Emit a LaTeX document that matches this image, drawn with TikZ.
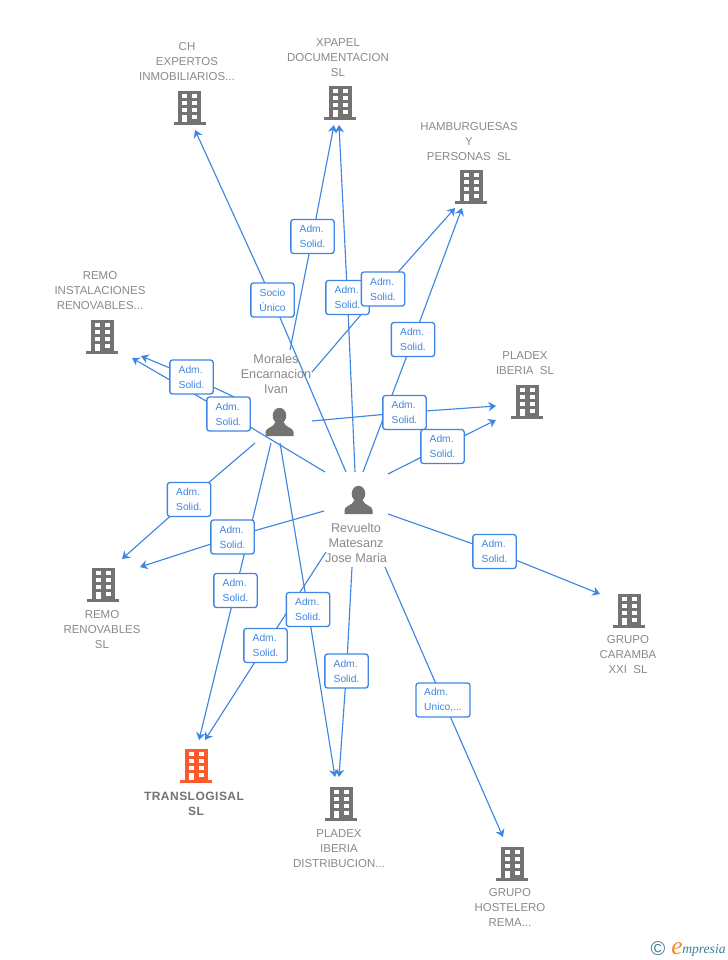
\documentclass[tikz,border=0pt]{standalone}
\usepackage{fontspec}
\setmainfont{Liberation Sans}
\newfontfamily\logofont{Liberation Serif}
\usetikzlibrary{arrows.meta}
\definecolor{linkblue}{HTML}{3F86E2}
\definecolor{labelgray}{HTML}{8A8A8A}
\definecolor{icongray}{HTML}{737373}
\definecolor{iconorange}{HTML}{FF5A2B}
\definecolor{logoteal}{HTML}{3E7F97}
\definecolor{logoorange}{HTML}{F08A24}
\colorlet{bcol}{icongray}
\pgfdeclarelayer{links}
\pgfsetlayers{links,main}
\tikzset{
  x=0.75pt,y=-0.75pt,
  conn/.style={draw=linkblue,line width=0.85pt,-{Stealth[length=5.6pt,width=7pt,inset=1.8pt]}},
  tag/.style={draw=linkblue,line width=1pt,rounded corners=2pt,fill=white,minimum width=32.5pt,minimum height=25.5pt,inner sep=0pt,text=linkblue,font=\fontsize{7.7pt}{11.25pt}\selectfont,align=left},
  wide/.style={minimum width=40.5pt},
  cname/.style={text=labelgray,font=\fontsize{8.6pt}{11.25pt}\selectfont,align=center,inner sep=0pt,anchor=north},
  pname/.style={cname,font=\fontsize{9.5pt}{11.25pt}\selectfont},
  bldg/.pic={
    \fill[bcol] (-11.5,0) rectangle (11.5,31);
    \fill[bcol] (-16,31) rectangle (16,33.5);
    \fill[white] (-7.5,3) rectangle (-2.5,7.3);
    \fill[white] (2.5,3) rectangle (7.5,7.3);
    \fill[white] (-7.5,10) rectangle (-2.5,14);
    \fill[white] (2.5,10) rectangle (7.5,14);
    \fill[white] (-7.5,17) rectangle (-2.5,20.7);
    \fill[white] (2.5,17) rectangle (7.5,20.7);
    \fill[white] (-7.5,23.5) rectangle (-2.5,31);
    \fill[white] (2.5,23.5) rectangle (7.5,27.5);
  },
  man/.pic={
    \fill[icongray] (0,7.7) ellipse [x radius=6.8,y radius=7.9];
    \fill[icongray] (-14,28) -- (-14,24) .. controls (-14,19.5) and (-6,20) .. (-4,14) -- (4,14) .. controls (6,20) and (14,19.5) .. (14,24) -- (14,28) -- cycle;
  }
}
\begin{document}
\begin{tikzpicture}
\useasboundingbox (0,0) rectangle (728,960);
\begin{pgfonlayer}{links}
\fill[white] (0,0) rectangle (728,960);
\end{pgfonlayer}

% free ends of the connectors
\coordinate (rCH) at (346,472);   \coordinate (tCH) at (195,130);
\coordinate (mXP) at (290,350);   \coordinate (tXPa) at (334,125);
\coordinate (rXP) at (355,472);   \coordinate (tXPb) at (339,125);
\coordinate (mHA) at (312,372);   \coordinate (tHAa) at (455,208);
\coordinate (rHA) at (363,472);   \coordinate (tHAb) at (462,208);
\coordinate (mPI) at (312,421);   \coordinate (tPIa) at (496,406);
\coordinate (rPI) at (388,474);   \coordinate (tPIb) at (496,420);
\coordinate (rRI) at (325,472);   \coordinate (tRIa) at (132,358);
\coordinate (mRI) at (245,402);   \coordinate (tRIb) at (141,356);
\coordinate (mRR) at (255,443);   \coordinate (tRRa) at (122,559);
\coordinate (rRR) at (324,511);   \coordinate (tRRb) at (140,567);
\coordinate (mTR) at (271,443);   \coordinate (tTRa) at (199,740);
\coordinate (rTR) at (326,552);   \coordinate (tTRb) at (205,740);
\coordinate (mPD) at (280,443);   \coordinate (tPDa) at (335,777);
\coordinate (rPD) at (352,567);   \coordinate (tPDb) at (339,777);
\coordinate (rGC) at (388,514);   \coordinate (tGC) at (600,594);
\coordinate (rGH) at (385,567);   \coordinate (tGH) at (503,837);

% tags
\node[tag,align=center] (l1) at (272.5,300) {Socio\\Único};
\node[tag] (l2) at (312.5,236.5) {Adm.\\Solid.\hspace{3pt}};
\node[tag] (l3) at (347.5,297.5) {Adm.\\Solid.\hspace{3pt}};
\node[tag] (l4) at (383,289) {Adm.\\Solid.\hspace{3pt}};
\node[tag] (l5) at (413,339.5) {Adm.\\Solid.\hspace{3pt}};
\node[tag] (l6) at (404.5,412.5) {Adm.\\Solid.\hspace{3pt}};
\node[tag] (l7) at (442.5,446.5) {Adm.\\Solid.\hspace{3pt}};
\node[tag] (l8) at (191.5,377) {Adm.\\Solid.\hspace{3pt}};
\node[tag] (l9) at (228.5,414) {Adm.\\Solid.\hspace{3pt}};
\node[tag] (l10) at (189,499.5) {Adm.\\Solid.\hspace{3pt}};
\node[tag] (l11) at (232.5,537) {Adm.\\Solid.\hspace{3pt}};
\node[tag] (l12) at (235.5,590.5) {Adm.\\Solid.\hspace{3pt}};
\node[tag] (l13) at (265.5,645.5) {Adm.\\Solid.\hspace{3pt}};
\node[tag] (l14) at (308,609.5) {Adm.\\Solid.\hspace{3pt}};
\node[tag] (l15) at (346.5,671) {Adm.\\Solid.\hspace{3pt}};
\node[tag] (l16) at (494.5,551.5) {Adm.\\Solid.\hspace{3pt}};
\node[tag,wide] (l17) at (443,700) {Adm.\\Unico,...};

% connectors, on the layer under the tags
\begin{pgfonlayer}{links}
\draw[conn] (rCH) -- (l1.center) -- (tCH);
\draw[conn] (mXP) -- (l2.center) -- (tXPa);
\draw[conn] (rXP) -- (l3.center) -- (tXPb);
\draw[conn] (mHA) -- (l4.center) -- (tHAa);
\draw[conn] (rHA) -- (l5.center) -- (tHAb);
\draw[conn] (mPI) -- (l6.center) -- (tPIa);
\draw[conn] (rPI) -- (l7.center) -- (tPIb);
\draw[conn] (rRI) -- (l9.center) -- (tRIa);
\draw[conn] (mRI) -- (l8.center) -- (tRIb);
\draw[conn] (mRR) -- (l10.center) -- (tRRa);
\draw[conn] (rRR) -- (l11.center) -- (tRRb);
\draw[conn] (mTR) -- (l12.center) -- (tTRa);
\draw[conn] (rTR) -- (l13.center) -- (tTRb);
\draw[conn] (mPD) -- (l14.center) -- (tPDa);
\draw[conn] (rPD) -- (l15.center) -- (tPDb);
\draw[conn] (rGC) -- (l16.center) -- (tGC);
\draw[conn] (rGH) -- (l17.center) -- (tGH);
\end{pgfonlayer}

% companies
\pic at (189.5,91) {bldg};
\node[cname] (nCH) at (187,42) {CH\\EXPERTOS\\INMOBILIARIOS...};
\pic at (340,86) {bldg};
\node[cname] (nXP) at (338,38) {XPAPEL\\DOCUMENTACION\\SL};
\pic at (471,170) {bldg};
\node[cname] (nHA) at (469,122) {HAMBURGUESAS\\Y\\PERSONAS\ \ SL};
\pic at (102,320) {bldg};
\node[cname] (nRI) at (100,271) {REMO\\INSTALACIONES\\RENOVABLES...};
\pic at (527,385) {bldg};
\node[cname] (nPI) at (525,351) {PLADEX\\IBERIA\ \ SL};
\pic at (103,568) {bldg};
\node[cname] (nRR) at (102,610) {REMO\\RENOVABLES\\SL};
\pic at (629,594) {bldg};
\node[cname] (nGC) at (628,635) {GRUPO\\CARAMBA\\XXI\ \ SL};
\begin{scope}
\colorlet{bcol}{iconorange}
\pic at (196.4,749) {bldg};
\end{scope}
\node[cname,text=icongray,font=\fontsize{9pt}{11.25pt}\selectfont\bfseries\addfontfeature{LetterSpace=4}] (nTR) at (194,792) {TRANSLOGISAL\\\hspace{3pt}SL};
\pic at (341,787) {bldg};
\node[cname] (nPD) at (339,829) {PLADEX\\IBERIA\\DISTRIBUCION...};
\pic at (512,847) {bldg};
\node[cname] (nGH) at (510,888) {GRUPO\\HOSTELERO\\REMA...};

% persons
\pic at (279.5,408) {man};
\node[pname] (nM) at (276,354.5) {Morales\\Encarnacion\\Ivan};
\pic at (358.5,486) {man};
\node[pname] (nR) at (356,523.5) {Revuelto\\Matesanz\\Jose Maria};

% logo
\node[inner sep=0pt,text=logoteal,font=\fontsize{15pt}{15pt}\selectfont] (logoC) at (658,948.5) {©};
\node[inner sep=0pt,anchor=base west,text=logoorange,font=\logofont\itshape\fontsize{19pt}{19pt}\selectfont] (logoE) at (671,954) {e};
\node[inner sep=0pt,anchor=base west,text=logoteal,font=\logofont\itshape\fontsize{10.2pt}{11pt}\selectfont] (logoT) at (682,953) {mpresia};
\end{tikzpicture}
\end{document}
